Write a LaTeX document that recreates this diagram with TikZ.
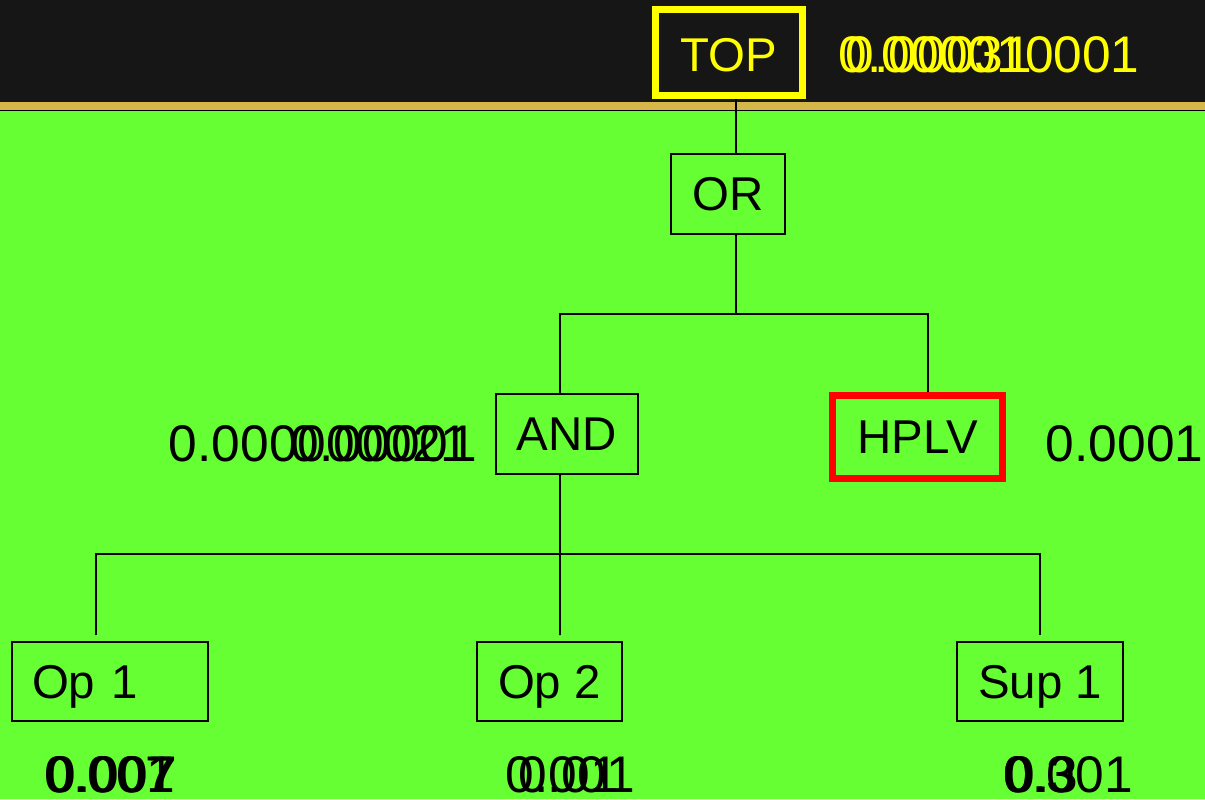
\documentclass[tikz,border=0pt]{standalone}
\usepackage{fontspec}
\setmainfont{Liberation Sans}
\definecolor{bandgrey}{HTML}{161616}
\definecolor{bandgold}{HTML}{D6B74A}
\definecolor{fieldgreen}{HTML}{66FF33}
\definecolor{topyellow}{HTML}{FFFF00}
\begin{document}
\begin{tikzpicture}[x=0.02cm,y=-0.02cm,line width=1.1pt,
  gate/.style={draw,inner sep=0pt,text depth=0pt,font=\fontsize{27}{30}\selectfont},
  value/.style={anchor=base west,inner sep=0pt,font=\fontsize{29.3}{33}\selectfont}]
\useasboundingbox (0,0) rectangle (1205,799);
\fill[bandgrey] (0,0) rectangle (1205,102);
\fill[bandgold] (0,102) rectangle (1205,110);
\fill[fieldgreen] (0,110) rectangle (1205,799);
\draw (0,110.5) -- (1205,110.5);
\node[gate,draw=topyellow,text=topyellow,line width=4pt,minimum width=2.94cm,minimum height=1.72cm] (top) at (729,52.5) {\raisebox{-0.08cm}{TOP}};
\node[gate,minimum width=2.28cm,minimum height=1.6cm] (orgate) at (728,194) {OR};
\node[gate,minimum width=2.84cm,minimum height=1.6cm] (andgate) at (567,434) {AND};
\node[gate,draw=red,line width=4pt,minimum width=3.4cm,minimum height=1.66cm] (hplv) at (917.5,437) {HPLV};
\node[gate,minimum height=1.58cm,text width=3.12cm,align=left,inner xsep=0.4cm] (op1) at (110,681.5) {Op 1};
\node[gate,minimum width=2.9cm,minimum height=1.58cm] (op2) at (549.5,681.5) {Op 2};
\node[gate,minimum width=3.32cm,minimum height=1.58cm] (sup1) at (1040,681.5) {Sup 1};
\coordinate (orjoin) at (736,314);
\coordinate (andjoin) at (560,554);
\coordinate (op1end) at (96,635);
\coordinate (op2end) at (560,635);
\coordinate (sup1end) at (1040,635);
\draw ([xshift=0.14cm]top.south) -- ([xshift=0.16cm]orgate.north);
\draw ([xshift=0.16cm]orgate.south) -- (orjoin);
\draw ([xshift=-0.14cm]andgate.north) |- (orjoin) -| ([xshift=0.21cm]hplv.north);
\draw ([xshift=-0.14cm]andgate.south) -- (op2end);
\draw (op1end) |- (andjoin) -| (sup1end);
% probabilities, several frames on top of each other
\node[value,text=topyellow] (topp) at (838,72) {0.000010001};
\node[value,text=topyellow] (topq) at (845,72) {0.00031};
\node[value] (andp) at (168,461) {0.000000021};
\node[value] (andq) at (290,461) {0.00001};
\node[value] (hplvp) at (1045,461) {0.0001};
\node[value] (op1p) at (44,792) {0.007};
\node[value] (op1q) at (45,792) {0.001};
\node[value] (op1r) at (47,792) {0.007};
\node[value] (op2p) at (505,792) {0.001};
\node[value] (op2q) at (518,792) {0.01};
\node[value] (sup1p) at (1003,792) {0.001};
\node[value] (sup1q) at (1003,792) {0.3};
\node[value] (sup1r) at (1006,792) {0.3};
\end{tikzpicture}
\end{document}
